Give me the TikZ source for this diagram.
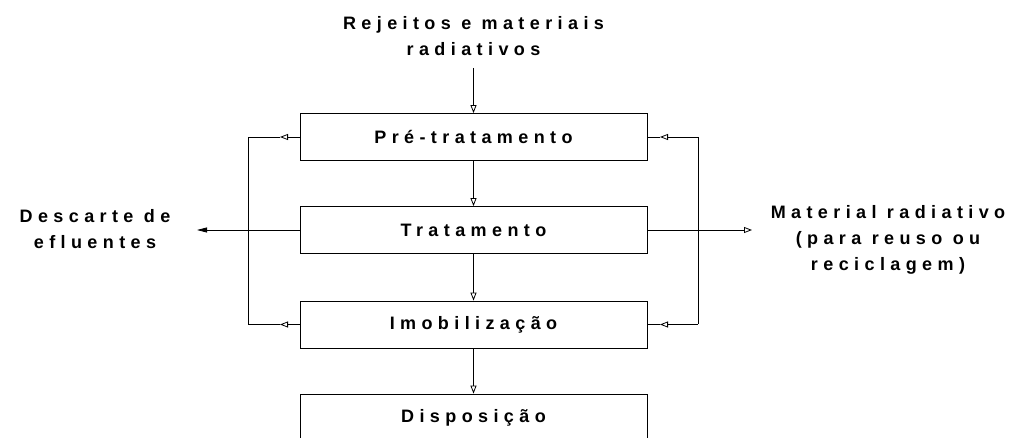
\documentclass[tikz,border=0pt]{standalone}
\usepackage{fontspec}
\setmainfont{Liberation Sans}[LetterSpace=30]
\usetikzlibrary{arrows.meta}
\begin{document}
\begin{tikzpicture}[x=1pt,y=-1pt, line width=0.8pt,
  lbl/.style={font=\fontsize{18}{26}\selectfont\bfseries, align=center, inner sep=0pt},
  stage/.style={draw, lbl, minimum width=347pt, minimum height=47pt},
  oarr/.style={-{Triangle[open,length=8pt,width=6pt]}},
  farr/.style={-{Triangle[length=10pt,width=5pt]}}]
\useasboundingbox (0,0) rectangle (1015,438);
\node[stage] (pre) at (473.5,137) {Pré-tratamento};
\node[stage] (trat) at (473.5,230) {Tratamento};
\node[stage] (imo) at (473.5,324.5) {Imobilização};
\node[stage, minimum height=48pt] (disp) at (473.5,418) {Disposição};
\node[lbl] (rej) at (473.5,36) {Rejeitos e materiais\\radiativos};
\node[lbl] (desc) at (95,229) {Descarte de\\efluentes};
\node[lbl] (mat) at (888,240) {Material radiativo\\(para reuso ou\\reciclagem)};
\coordinate (top) at (473.5,68);
\draw[oarr] (top) -- (pre.north);
\draw[oarr] (pre.south) -- (trat.north);
\draw[oarr] (trat.south) -- (imo.north);
\draw[oarr] (imo.south) -- (disp.north);
% left loop
\coordinate (Lt) at (248,137);
\coordinate (Lb) at (248,324.5);
\coordinate (aL1) at (280,137);
\coordinate (aL2) at (280,324.5);
\draw[oarr] (pre.west) -- (aL1);
\draw (aL1) -- (Lt) -- (Lb) -- (aL2);
\draw[oarr] (imo.west) -- (aL2);
\coordinate (dOut) at (197,230);
\draw[farr] (trat.west) -- (dOut);
% right loop
\coordinate (Rt) at (698,137);
\coordinate (Rb) at (698,324.5);
\coordinate (aR1) at (660,137);
\coordinate (aR2) at (660,324.5);
\draw[oarr] (Rt) -- (aR1);
\draw (aR1) -- (pre.east);
\draw (Rt) -- (Rb);
\draw[oarr] (Rb) -- (aR2);
\draw (aR2) -- (imo.east);
\coordinate (mOut) at (752,230);
\draw[oarr] (trat.east) -- (mOut);
\end{tikzpicture}
\end{document}
